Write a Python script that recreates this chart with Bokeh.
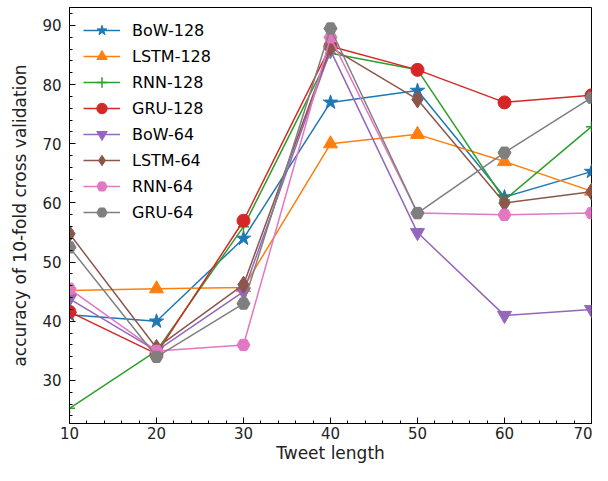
from bokeh.plotting import figure
from bokeh.models import Range1d, SingleIntervalTicker, Legend, LegendItem
from bokeh.embed import file_html
from bokeh.resources import INLINE

tweet_length = [10, 20, 30, 40, 50, 60, 70]

bow_128 = [41.1, 40.0, 54.0, 77.0, 79.0, 61.0, 65.3]
lstm_128 = [45.2, 45.5, 45.7, 70.0, 71.6, 67.0, 62.0]
rnn_128 = [25.3, 35.0, 56.0, 85.3, 82.5, 60.5, 72.9]
gru_128 = [41.6, 34.5, 57.0, 86.5, 82.5, 77.0, 78.2]
bow_64 = [43.8, 35.0, 45.0, 85.8, 55.0, 41.0, 42.0]
lstm_64 = [54.8, 35.5, 46.2, 86.3, 77.5, 60.0, 61.9]
rnn_64 = [45.5, 35.0, 36.0, 88.0, 58.3, 58.0, 58.3]
gru_64 = [52.5, 34.0, 43.0, 89.5, 58.3, 68.5, 77.8]

series = [
    ("BoW-128", bow_128, "#1f77b4", "star", 15),
    ("LSTM-128", lstm_128, "#ff7f0e", "triangle", 14),
    ("RNN-128", rnn_128, "#2ca02c", "cross", 11),
    ("GRU-128", gru_128, "#d62728", "circle", 13),
    ("BoW-64", bow_64, "#9467bd", "inverted_triangle", 14),
    ("LSTM-64", lstm_64, "#8c564b", "diamond", 17),
    ("RNN-64", rnn_64, "#e377c2", "hex", 13),
    ("GRU-64", gru_64, "#7f7f7f", "hex", 13),
]

p = figure(width=592, height=465, output_backend="svg", toolbar_location=None,
           x_range=Range1d(10, 70), y_range=Range1d(22.73, 93.04),
           min_border_left=69, min_border_right=1, min_border_top=7, min_border_bottom=42)
p.xgrid.visible = False
p.ygrid.visible = False
p.background_fill_color = "white"
p.outline_line_color = "black"
p.outline_line_width = 1
p.outline_line_alpha = 1

items = []
for name, vals, color, marker, size in series:
    l = p.line(tweet_length, vals, line_color=color, line_width=1.5)
    s = p.scatter(tweet_length, vals, marker=marker, size=size, fill_color=color,
                  line_color=color, line_width=1.5 if marker == "cross" else 1)
    items.append(LegendItem(label=name, renderers=[l, s]))

legend = Legend(items=items, location=(14, 198), padding=0, margin=0,
                border_line_alpha=0, background_fill_alpha=0,
                glyph_width=37, glyph_height=26, label_height=26, spacing=0,
                label_standoff=12, label_text_font="DejaVu Sans",
                label_text_font_size="16px", label_text_color="black")
p.add_layout(legend, "center")

for ax in (p.xaxis[0], p.yaxis[0]):
    ax.major_tick_in = 6
    ax.major_tick_out = 0
    ax.minor_tick_in = 3
    ax.minor_tick_out = 0
    ax.axis_line_color = "black"
    ax.major_tick_line_color = "black"
    ax.minor_tick_line_color = "black"
    ax.major_label_text_font = "DejaVu Sans"
    ax.major_label_text_font_size = "15px"
    ax.major_label_text_color = "#222222"
    ax.axis_label_text_font = "DejaVu Sans"
    ax.axis_label_text_font_size = "17px"
    ax.axis_label_text_font_style = "normal"
    ax.axis_label_text_color = "#222222"
    ax.ticker = SingleIntervalTicker(interval=10, num_minor_ticks=5)

p.xaxis.axis_label = "Tweet length"
p.yaxis.axis_label = "accuracy of 10-fold cross validation"
p.xaxis.major_label_standoff = 3
p.xaxis.axis_label_standoff = 1
p.yaxis.major_label_standoff = 8
p.yaxis.axis_label_standoff = 9

open("out.html", "w").write(file_html(p, INLINE))
